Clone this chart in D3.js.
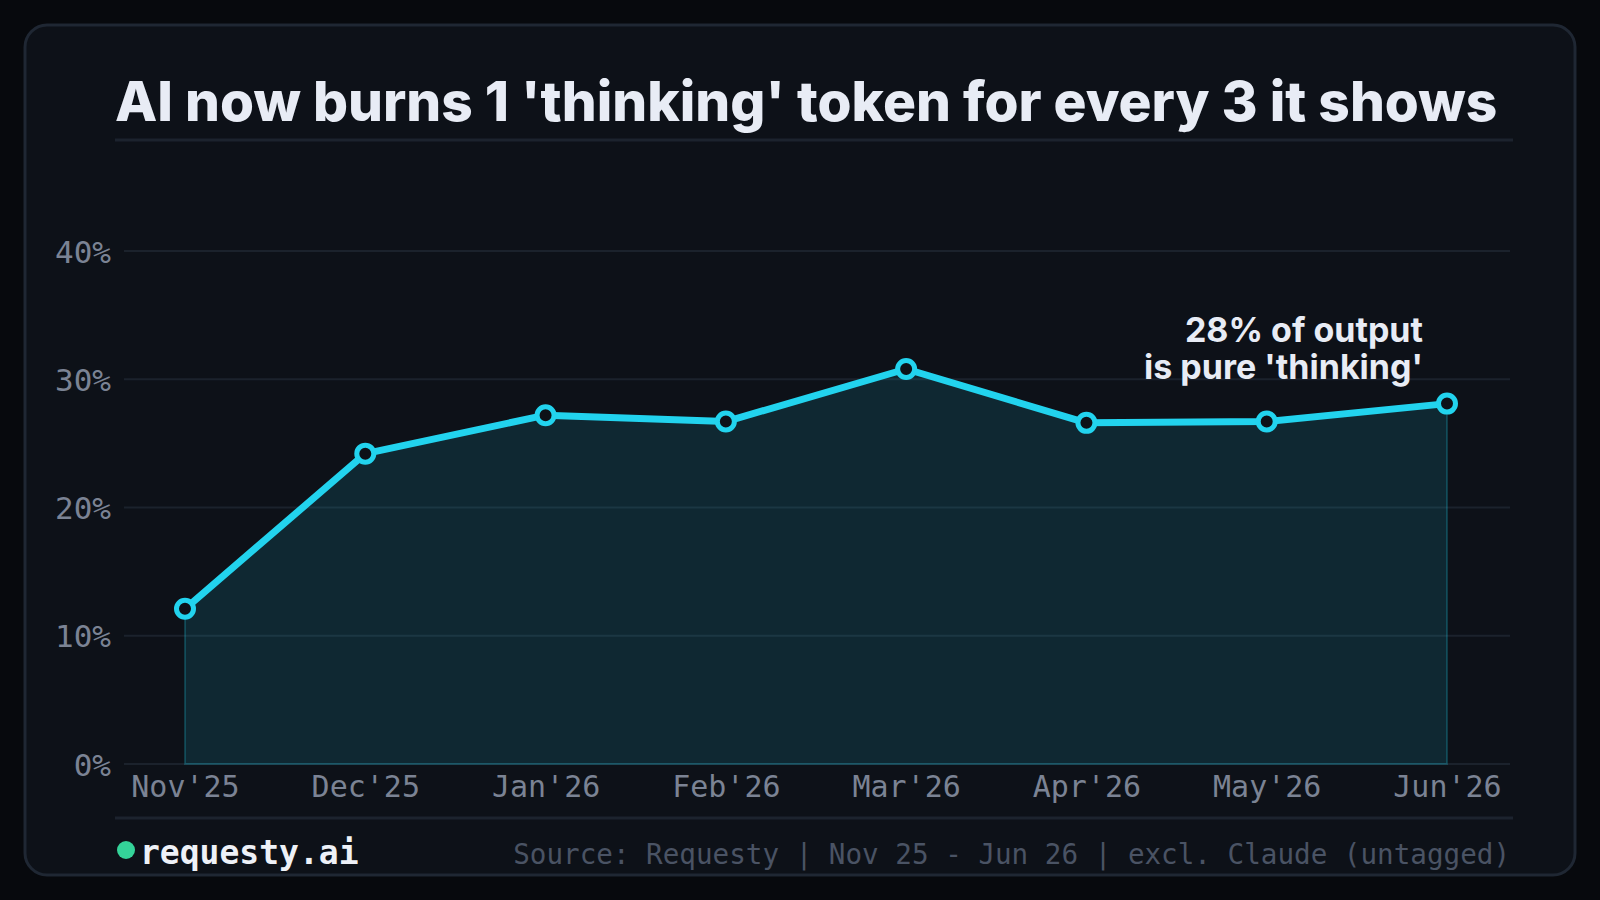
<!DOCTYPE html>
<html>
<head>
<meta charset="utf-8">
<script src="https://cdn.jsdelivr.net/npm/d3@7"></script>
<style>
  html, body { margin: 0; padding: 0; background: #07090d; }
  svg { display: block; }
</style>
</head>
<body>
<svg id="chart"></svg>
<script>
// Data
const months = ["Nov'25", "Dec'25", "Jan'26", "Feb'26", "Mar'26", "Apr'26", "May'26", "Jun'26"];
const thinkingShare = [12.1, 24.2, 27.2, 26.7, 30.8, 26.6, 26.7, 28.1];
const yTicks = [0, 10, 20, 30, 40];
const titleText = "AI now burns 1 'thinking' token for every 3 it shows";
const noteLines = ["28% of output", "is pure 'thinking'"];
const sourceText = "Source: Requesty | Nov 25 - Jun 26 | excl. Claude (untagged)";
const brandText = "requesty.ai";

function drawChart() {
    const width = 1600;
    const height = 900;
    const mono = "'DejaVu Sans Mono', monospace";
    const sans = "Inter, 'Noto Sans', sans-serif";

    const svg = d3.select('#chart')
        .attr('width', width)
        .attr('height', height);

    // page + card
    svg.append('rect')
        .attr('width', width).attr('height', height)
        .attr('fill', '#07090d');
    svg.append('rect')
        .attr('x', 25).attr('y', 25)
        .attr('width', 1550).attr('height', 850)
        .attr('rx', 22)
        .attr('fill', '#0d1118')
        .attr('stroke', '#1f2733')
        .attr('stroke-width', 3);

    // title
    svg.append('text')
        .attr('x', 115).attr('y', 121)
        .style('font-family', sans)
        .style('font-weight', 800)
        .style('font-size', '55px')
        .attr('fill', '#e8ecf5')
        .text(titleText);

    svg.append('line')
        .attr('x1', 115).attr('x2', 1513)
        .attr('y1', 140).attr('y2', 140)
        .attr('stroke', '#1c232e').attr('stroke-width', 3);

    // scales
    const x = d3.scalePoint()
        .domain(months)
        .range([185, 1447]);
    const y = d3.scaleLinear()
        .domain([0, 40])
        .range([764, 251]);

    // gridlines
    svg.append('g')
        .selectAll('line')
        .data(yTicks)
        .join('line')
        .attr('x1', 124).attr('x2', 1510)
        .attr('y1', d => y(d)).attr('y2', d => y(d))
        .attr('stroke', '#1b222c')
        .attr('stroke-width', 2);

    // y axis labels
    const yAxis = svg.append('g')
        .attr('transform', 'translate(111,0)')
        .call(d3.axisLeft(y).tickValues(yTicks).tickSize(0).tickPadding(0).tickFormat(d => d + '%'));
    yAxis.select('.domain').remove();
    yAxis.selectAll('text')
        .attr('dy', '0.36em')
        .style('font-family', mono)
        .style('font-size', '31px')
        .attr('fill', '#7b8394');

    // x axis labels
    const xAxis = svg.append('g')
        .attr('transform', 'translate(0,764)')
        .call(d3.axisBottom(x).tickSize(0).tickPadding(0));
    xAxis.select('.domain').remove();
    xAxis.selectAll('text')
        .attr('dy', '0')
        .attr('y', 33)
        .style('font-family', mono)
        .style('font-size', '30px')
        .attr('fill', '#7b8394');

    const points = months.map((m, i) => ({ month: m, value: thinkingShare[i] }));

    // area
    const area = d3.area()
        .x(d => x(d.month))
        .y0(y(0))
        .y1(d => y(d.value));
    svg.append('path')
        .datum(points)
        .attr('d', area)
        .attr('fill', 'rgba(34,211,238,0.12)')
        .attr('stroke', 'rgba(34,211,238,0.22)')
        .attr('stroke-width', 2);

    // line
    const line = d3.line()
        .x(d => x(d.month))
        .y(d => y(d.value));
    svg.append('path')
        .datum(points)
        .attr('d', line)
        .attr('fill', 'none')
        .attr('stroke', '#22d3ee')
        .attr('stroke-width', 7)
        .attr('stroke-linejoin', 'round');

    // markers
    svg.append('g')
        .selectAll('circle')
        .data(points)
        .join('circle')
        .attr('cx', d => x(d.month))
        .attr('cy', d => y(d.value))
        .attr('r', 8.5)
        .attr('fill', '#0d1118')
        .attr('stroke', '#22d3ee')
        .attr('stroke-width', 5);

    // annotation
    svg.append('text')
        .attr('x', 1423).attr('y', 342)
        .attr('text-anchor', 'end')
        .style('font-family', sans)
        .style('font-weight', 700)
        .style('font-size', '34px')
        .attr('fill', '#e8ecf5')
        .selectAll('tspan')
        .data(noteLines)
        .join('tspan')
        .attr('x', 1423)
        .attr('dy', (d, i) => i === 0 ? 0 : 37)
        .text(d => d);

    // footer
    svg.append('line')
        .attr('x1', 115).attr('x2', 1513)
        .attr('y1', 818).attr('y2', 818)
        .attr('stroke', '#1c232e').attr('stroke-width', 3);

    svg.append('circle')
        .attr('cx', 126).attr('cy', 850)
        .attr('r', 9)
        .attr('fill', '#34d399');

    svg.append('text')
        .attr('x', 140).attr('y', 864)
        .style('font-family', mono)
        .style('font-weight', 700)
        .style('font-size', '33px')
        .attr('fill', '#eef1f7')
        .text(brandText);

    svg.append('text')
        .attr('x', 1510).attr('y', 864)
        .attr('text-anchor', 'end')
        .style('font-family', mono)
        .style('font-size', '27.6px')
        .attr('fill', '#4a5364')
        .text(sourceText);
}

window.addEventListener('load', drawChart);
</script>
</body>
</html>
